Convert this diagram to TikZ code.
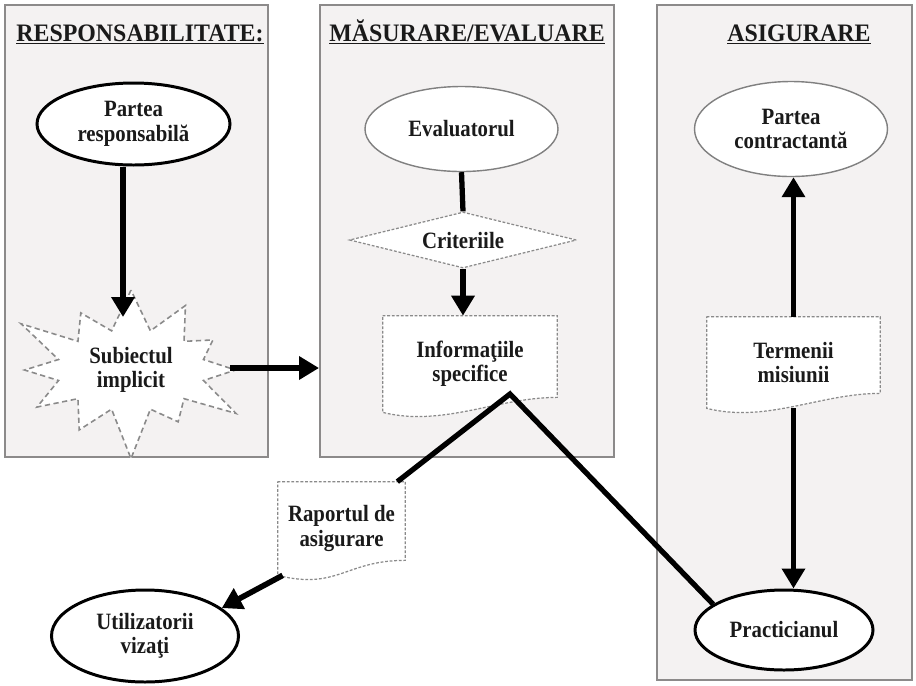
\documentclass[tikz,border=0pt]{standalone}
\usepackage{fontspec}
\setmainfont{Liberation Serif}[FakeStretch=0.89]
\newfontfamily\ttlfont{Liberation Serif}[FakeStretch=0.95]
\usetikzlibrary{arrows.meta,positioning,shapes.geometric,shapes.symbols}
\definecolor{PanelFill}{HTML}{F4F2F2}
\definecolor{PanelLine}{HTML}{8C8A8A}
\definecolor{DashGray}{HTML}{8A8A8A}
\definecolor{Ink}{HTML}{1A1A1A}
\pgfdeclarelayer{back}
\pgfsetlayers{back,main}
\newcommand{\docframe}[1]{\begin{pgfonlayer}{back}\draw[docline] (#1.north west) -- (#1.north east) -- ([yshift=.3cm]#1.south east) .. controls ([xshift=-1.2cm,yshift=.3cm]#1.south east) and ([xshift=1.2cm,yshift=-.3cm]#1.south west) .. (#1.south west) -- cycle;\end{pgfonlayer}}

\begin{document}
\begin{tikzpicture}[font=\bfseries\fontsize{13.3}{13.9}\selectfont,text=Ink,
  panel/.style={draw=PanelLine,line width=1.1pt,fill=PanelFill},
  ttl/.style={font=\ttlfont\bfseries\fontsize{14.3}{16}\selectfont,anchor=base},
  boldell/.style={ellipse,draw=black,line width=1.7pt,fill=white,align=center,inner sep=0pt},
  thinell/.style={ellipse,draw=gray,line width=.8pt,fill=white,align=center,inner sep=0pt},
  docline/.style={draw=DashGray,line width=.7pt,dash pattern=on 1.6pt off 1pt,fill=white},
  docbox/.style={rectangle,align=center,inner sep=0pt},
  arr/.style={line width=3.2pt,-{Triangle[width=.45cm,length=.4cm]}},
  link/.style={line width=3pt}]
\useasboundingbox (0,0) rectangle (18.32,-13.7);
\begin{pgfonlayer}{back}
\node[panel,minimum width=5.26cm,minimum height=9.04cm] (pResp) at (2.73,-4.62) {};
\node[panel,minimum width=5.88cm,minimum height=9.04cm] (pMas) at (9.34,-4.62) {};
\node[panel,minimum width=5.1cm,minimum height=13.5cm] (pAsig) at (15.69,-6.85) {};
\end{pgfonlayer}
\node[ttl] (tResp) at (2.8,-0.82) {\underline{RESPONSABILITATE:}};
\node[ttl] (tMas) at (9.34,-0.82) {\underline{MĂSURARE/EVALUARE}};
\node[ttl] (tAsig) at (15.98,-0.82) {\underline{ASIGURARE}};

% first column
\node[boldell,minimum width=3.86cm,minimum height=1.64cm] (presp) at (2.67,-2.48) {Partea\\responsabilă};
\node[starburst,draw=DashGray,dash pattern=on 3pt off 2pt,line width=.9pt,fill=white,starburst points=12,starburst point height=1.1cm,minimum width=5.2cm,minimum height=3.75cm,align=center] (subj) at (2.62,-7.4) {Subiectul\\implicit};
\coordinate (subjtop) at (2.46,-6.34);
\coordinate (subjout) at (4.6,-7.36);

% second column
\node[thinell,minimum width=3.86cm,minimum height=1.7cm] (eval) at (9.23,-2.58) {Evaluatorul};
\node[diamond,draw=DashGray,line width=.7pt,dash pattern=on 1.6pt off 1pt,fill=white,aspect=4,inner sep=0pt,minimum width=4.54cm,minimum height=1.12cm] (crit) at (9.26,-4.8) {Criteriile};
\node[docbox,minimum width=3.48cm,minimum height=1.92cm] (info) at (9.4,-7.28) {Informaţiile\\specifice};
\docframe{info}
\coordinate (apex) at (10.2,-7.88);

% third column
\node[thinell,minimum width=3.86cm,minimum height=1.9cm] (pcontr) at (15.82,-2.58) {Partea\\contractantă};
\node[docbox,minimum width=3.46cm,minimum height=1.82cm] (term) at (15.87,-7.25) {Termenii\\misiunii};
\docframe{term}
\node[boldell,minimum width=3.56cm,minimum height=1.6cm] (prac) at (15.68,-12.6) {Practicianul};

% below
\node[docbox,minimum width=2.54cm,minimum height=1.86cm] (rap) at (6.83,-10.57) {Raportul de\\asigurare};
\docframe{rap}
\node[boldell,minimum width=3.74cm,minimum height=1.84cm] (util) at (2.9,-12.72) {Utilizatorii\\vizaţi};

\draw[arr] (presp.south -| subjtop) -- (subjtop);
\draw[arr] (subjout) -- (pMas.west |- subjout);
\draw[link] (eval.south) -- (crit.north);
\draw[arr] (crit.south) -- (crit.south |- info.north);
\draw[link] ([xshift=-.16cm]rap.north east) -- (apex) -- (prac.160);
\draw[arr] ([xshift=.1cm]rap.south west) -- (util.20);
\draw[arr] (term.north) -- (term.north |- pcontr.south);
\draw[arr] (term.south) -- (term.south |- prac.north);
\end{tikzpicture}
\end{document}
